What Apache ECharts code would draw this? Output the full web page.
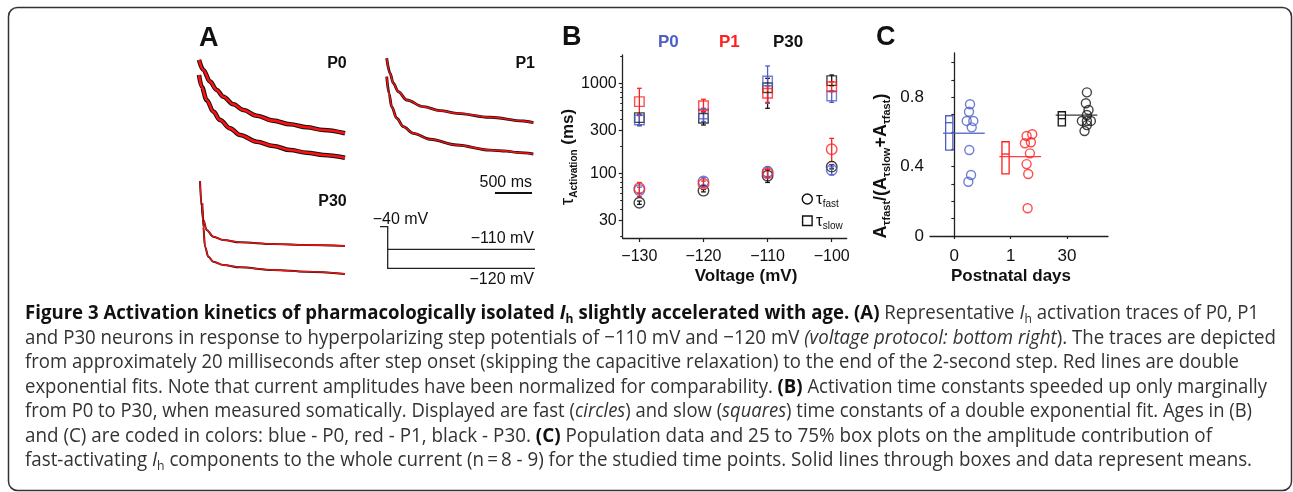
<!DOCTYPE html>
<html><head><meta charset="utf-8">
<script src="https://cdn.jsdelivr.net/npm/echarts@6/dist/echarts.min.js"></script>
<style>html,body{margin:0;padding:0;background:#fff}#c{width:1293px;height:492px}</style>
</head><body><div id="c"></div>
<script>
// ================= DATA =================
// Panel A: traces (time in ms, current in % of panel scale)
const p0UpT = [0,59,151,242,333,470,607,790,1018,1247,1475,1703,2000];
const p0UpI = [-4.5,-13.6,-24.2,-31.8,-37.9,-44.8,-50,-55.2,-59.7,-63,-65.7,-68.2,-71.2];
const p0LoT = [0,37,105,196,288,425,562,790,1018,1247,1475,1703,2000];
const p0LoI = [-18.2,-28.8,-40.9,-51.5,-59.1,-66.7,-72.7,-78.8,-82.7,-86.4,-88.8,-90.9,-93.4];
const p1UpT = [0,45,89,157,270,494,719,944,1393,1843,1978];
const p1UpI = [-3,-16.6,-25.7,-33.4,-40.9,-47,-50.6,-53,-56.6,-60,-61.5];
const p1LoT = [0,31,67,135,224,359,584,944,1393,1618,1753,1977];
const p1LoI = [-19.7,-34.8,-47,-57.5,-65.2,-71.2,-76.6,-81.8,-86.4,-87.3,-88.6,-90];
const p30UpT = [0,23,46,92,184,322,552,1011,1472,2000];
const p30UpI = [-6,-31.7,-45,-55,-61.7,-65,-67.3,-69,-70,-71];
const p30LoT = [32,46,69,115,184,322,552,1011,1472,2000];
const p30LoI = [-28.3,-51.7,-71.7,-81.7,-86.7,-90,-92.3,-95,-96.7,-99];
const scaleBarMs = [1460, 1960];

// Panel B: activation time constants (ms)
const voltages = [-130,-120,-110,-100];
const bTicks = [30,100,300,1000];
const bMinorTicks = [20,40,50,60,70,80,90,200,400,500,600,700,800,900,2000];
const p0Slow = [393,458,1067,726],  p0SlowLo = [337,376,602,617],  p0SlowHi = [447,530,1570,832];
const p0Fast = [65,81,104,109],     p0FastLo = [60,74,92,96],      p0FastHi = [70,89,118,118];
const p1Slow = [628,566,778,922],   p1SlowLo = [440,485,617,811],  p1SlowHi = [885,668,940,1047];
const p1Fast = [68,76,100,185],     p1FastLo = [55,70,90,135],     p1FastHi = [79,82,110,245];
const p30Slow = [417,410,899,1077], p30SlowLo = [345,345,530,946], p30SlowHi = [454,485,1143,1245];
const p30Fast = [47,64,94,118.5],   p30FastLo = [45,62,79,112],    p30FastHi = [49,66,110,125];

// Panel C: A_fast/(A_slow+A_fast)
const cCategories = ['0','1','30'];
const cTicks = [0,0.1,0.2,0.3,0.4,0.5,0.6,0.7,0.8,0.9,1.0];
const cLabelTicks = [0,0.4,0.8];
const cP0 = [0.76,0.717,0.664,0.664,0.627,0.496,0.352,0.313];
const cP0x = [0.279,0.261,0.22,0.337,0.309,0.266,0.297,0.249];
const cP1 = [0.587,0.577,0.541,0.535,0.477,0.415,0.358,0.16];
const cP1x = [0.384,0.284,0.36,0.254,0.343,0.284,0.313,0.302];
const cP30 = [0.829,0.766,0.727,0.698,0.664,0.664,0.664,0.64,0.606];
const cP30x = [0.355,0.337,0.384,0.355,0.266,0.355,0.426,0.355,0.313];
const cBoxQ1 = [0.496,0.358,0.636];
const cBoxQ3 = [0.694,0.544,0.717];
const cBoxMed = [0.654,0.473,0.677];
const cMean = [0.593,0.458,0.698];

// ================= STYLE =================
const FIG = '"Liberation Sans", Arial, sans-serif';
const CAP = '"Open Sans", sans-serif';
const BLUE = '#4d5ec6', RED = '#ff2020', BLACK = '#151515', AX = '#222';

const chart = echarts.init(document.getElementById('c'), null, {renderer:'canvas', width:1293, height:492});
const zip = (a,b) => a.map((v,i)=>[v,b[i]]);
const lg = v => Math.log10(v);

const grids = [
  {left:199, top:55, width:146, height:110},
  {left:386.7, top:55, width:148.3, height:140},
  {left:200, top:175, width:145, height:100},
  {left:622.7, top:55, width:224, height:183},
  {left:930, top:53, width:178, height:183}
];

const hiddenX = g => ({gridIndex:g, type:'value', min:0, max:2000, show:false});
const hiddenY = (g,mn) => ({gridIndex:g, type:'value', min:mn, max:0, show:false});

const xAxes = [hiddenX(0), hiddenX(1), hiddenX(2),
  {gridIndex:3, type:'value', min:-132.6, max:-97.66,
   axisLine:{lineStyle:{color:AX,width:1.3}},
   axisTick:{customValues:voltages, length:4, lineStyle:{color:AX,width:1.2}},
   axisLabel:{customValues:voltages, formatter:v=>'\u2212'+Math.abs(v), color:'#111', fontSize:16, fontFamily:FIG, margin:11},
   splitLine:{show:false}},
  {gridIndex:4, type:'value', min:-0.432, max:2.73,
   axisLine:{lineStyle:{color:AX,width:1.3}},
   axisTick:{customValues:[0,1,2], length:3, lineStyle:{color:AX,width:1.2}},
   axisLabel:{customValues:[0,1,2], formatter:v=>cCategories[Math.round(v)], color:'#111', fontSize:17, fontFamily:FIG, margin:12},
   splitLine:{show:false}}
];
const yAxes = [hiddenY(0,-100), hiddenY(1,-127.27), hiddenY(2,-100),
  {gridIndex:3, type:'value', position:'left', min:lg(19), max:lg(2080),
   axisLine:{lineStyle:{color:AX,width:1.3}},
   axisTick:{customValues:bTicks.map(lg), length:4, lineStyle:{color:AX,width:1.2}},
   axisLabel:{customValues:bTicks.map(lg), formatter:v=>String(Math.round(Math.pow(10,v))), color:'#111', fontSize:16, fontFamily:FIG, margin:6},
   splitLine:{show:false}},
  {gridIndex:3, type:'value', position:'left', offset:0, min:lg(19), max:lg(2080),
   axisLine:{show:false}, axisLabel:{show:false}, splitLine:{show:false},
   axisTick:{customValues:bMinorTicks.map(lg), length:2.5, lineStyle:{color:AX,width:1}}},
  {gridIndex:4, type:'value', position:'left', min:0, max:1.056,
   axisLine:{lineStyle:{color:AX,width:1.3}},
   axisTick:{customValues:cTicks, length:3, lineStyle:{color:AX,width:1.1}},
   axisLabel:{customValues:cLabelTicks, formatter:v=>v===0?'0':v.toFixed(1), color:'#111', fontSize:17, fontFamily:FIG, margin:6},
   splitLine:{show:false}}
];

const series = [];
function trace(g, t, i, blackW, redW){
  series.push({type:'line', xAxisIndex:g, yAxisIndex:g, data:zip(t,i), showSymbol:false, smooth:0.35, smoothMonotone:'x', silent:true,
    lineStyle:{color:'#111', width:blackW}});
  series.push({type:'line', xAxisIndex:g, yAxisIndex:g, data:zip(t,i), showSymbol:false, smooth:0.35, smoothMonotone:'x', silent:true,
    lineStyle:{color:'#ff1010', width:redW}});
}
trace(0,p0UpT,p0UpI,4.6,2.6); trace(0,p0LoT,p0LoI,4.6,2.6);
trace(1,p1UpT,p1UpI,2.8,1.5); trace(1,p1LoT,p1LoI,2.8,1.5);
trace(2,p30UpT,p30UpI,2,1.3); trace(2,p30LoT,p30LoI,2,1.3);
series.push({type:'line', xAxisIndex:1, yAxisIndex:1, data:scaleBarMs.map(t=>[t,-125.5]), showSymbol:false, silent:true, lineStyle:{color:'#111', width:2}});

// Panel B
function errRender(params, api){
  const x = api.value(0);
  const lo = api.coord([x, api.value(1)]), hi = api.coord([x, api.value(2)]);
  const col = api.visual('color'), cw = 2.4;
  const st = {stroke:col, lineWidth:1.3};
  return {type:'group', children:[
    {type:'line', shape:{x1:lo[0],y1:lo[1],x2:hi[0],y2:hi[1]}, style:st},
    {type:'line', shape:{x1:lo[0]-cw,y1:lo[1],x2:lo[0]+cw,y2:lo[1]}, style:st},
    {type:'line', shape:{x1:hi[0]-cw,y1:hi[1],x2:hi[0]+cw,y2:hi[1]}, style:st}
  ]};
}
function bGroup(col, slow, slowLo, slowHi, fast, fastLo, fastHi){
  series.push({type:'custom', xAxisIndex:3, yAxisIndex:3, renderItem:errRender, itemStyle:{color:col}, silent:true,
    data:voltages.map((v,k)=>[v, lg(slowLo[k]), lg(slowHi[k])]).concat(voltages.map((v,k)=>[v, lg(fastLo[k]), lg(fastHi[k])]))});
  series.push({type:'scatter', xAxisIndex:3, yAxisIndex:3, symbol:'rect', symbolSize:9.5, silent:true,
    itemStyle:{color:'rgba(0,0,0,0)', borderColor:col, borderWidth:1.4}, data:voltages.map((v,k)=>[v, lg(slow[k])])});
  series.push({type:'scatter', xAxisIndex:3, yAxisIndex:3, symbol:'circle', symbolSize:10.5, silent:true,
    itemStyle:{color:'rgba(0,0,0,0)', borderColor:col, borderWidth:1.4}, data:voltages.map((v,k)=>[v, lg(fast[k])])});
}
bGroup(BLACK, p30Slow, p30SlowLo, p30SlowHi, p30Fast, p30FastLo, p30FastHi);
bGroup(BLUE, p0Slow, p0SlowLo, p0SlowHi, p0Fast, p0FastLo, p0FastHi);
bGroup(RED, p1Slow, p1SlowLo, p1SlowHi, p1Fast, p1FastLo, p1FastHi);

// Panel C
const BOX_OFF = -0.09, BOX_HW = 3.6;
function boxRender(params, api){
  const p = api.value(0) + BOX_OFF;
  const top = api.coord([p, api.value(2)]), bot = api.coord([p, api.value(1)]), med = api.coord([p, api.value(3)]);
  const col = api.visual('color');
  const st = {stroke:col, lineWidth:1.3, fill:'none'};
  return {type:'group', children:[
    {type:'rect', shape:{x:top[0]-BOX_HW, y:top[1], width:2*BOX_HW, height:bot[1]-top[1]}, style:st},
    {type:'line', shape:{x1:med[0]-BOX_HW, y1:med[1], x2:med[0]+BOX_HW, y2:med[1]}, style:{stroke:col, lineWidth:1.3}}
  ]};
}
const cCols = [BLUE, RED, BLACK];
const cPts = [zip(cP0x, cP0), zip(cP1x, cP1), zip(cP30x, cP30)];
cCols.forEach((col,k)=>{
  series.push({type:'custom', xAxisIndex:4, yAxisIndex:5, renderItem:boxRender, itemStyle:{color:col}, silent:true,
    data:[[k, cBoxQ1[k], cBoxQ3[k], cBoxMed[k]]]});
  series.push({type:'line', xAxisIndex:4, yAxisIndex:5, showSymbol:false, silent:true,
    lineStyle:{color:col, width:1.3, opacity:0.85}, data:[[k-0.2, cMean[k]],[k+0.54, cMean[k]]]});
  series.push({type:'scatter', xAxisIndex:4, yAxisIndex:5, symbol:'circle', symbolSize:9, silent:true,
    itemStyle:{color:'rgba(0,0,0,0)', borderColor:col, borderWidth:1.4},
    data:cPts[k].map(d=>[k + d[0], d[1]])});
});

// ================= GRAPHIC (labels, schematic, caption) =================
const graphic = [];
graphic.push({type:'rect', shape:{x:8.5, y:7.5, width:1283, height:483, r:9}, style:{fill:'none', stroke:'#333', lineWidth:1.5}, silent:true});
function txt(x,y,text,opt){
  graphic.push({type:'text', x, y, silent:true, style:Object.assign({text, fill:'#111', font:'bold 16px '+FIG, align:'left', verticalAlign:'middle'}, opt||{})});
}
txt(199,38.5,'A',{font:'bold 27px '+FIG});
txt(562,37.5,'B',{font:'bold 27px '+FIG});
txt(876,37.5,'C',{font:'bold 27px '+FIG});
txt(346.7,63.3,'P0',{align:'right'});
txt(535,63.3,'P1',{align:'right'});
txt(346.7,201.7,'P30',{align:'right'});
txt(532,183,'500 ms',{align:'right', font:'16px '+FIG});
// voltage protocol schematic
graphic.push({type:'polyline', silent:true, shape:{points:[[380,226.7],[387.7,226.7],[387.7,268.3],[535,268.3]]}, style:{stroke:'#222', lineWidth:1.3, fill:'none'}});
graphic.push({type:'line', silent:true, shape:{x1:387.7,y1:249.3,x2:535,y2:249.3}, style:{stroke:'#222', lineWidth:1.3}});
txt(372.7,220,'\u221240 mV',{font:'16px '+FIG});
txt(534,238.3,'\u2212110 mV',{align:'right', font:'16px '+FIG});
txt(534,279.3,'\u2212120 mV',{align:'right', font:'16px '+FIG});
// panel B group labels
txt(658,42,'P0',{fill:BLUE, font:'bold 17px '+FIG});
txt(719,42,'P1',{fill:RED, font:'bold 17px '+FIG});
txt(773,42,'P30',{fill:'#111', font:'bold 17px '+FIG});
// panel B legend
graphic.push({type:'circle', silent:true, shape:{cx:807.3, cy:199, r:5}, style:{fill:'none', stroke:'#111', lineWidth:1.4}});
graphic.push({type:'rect', silent:true, shape:{x:802.6, y:216, width:9.5, height:9.5}, style:{fill:'none', stroke:'#111', lineWidth:1.4}});
const legRich = {t:{fontFamily:FIG, fontSize:17, fill:'#111', lineHeight:20}, s:{fontFamily:FIG, fontSize:10, fill:'#111', lineHeight:10, verticalAlign:'bottom'}};
graphic.push({type:'text', x:816, y:199, silent:true, style:{text:'{t|\u03c4}{s|fast}', rich:legRich, align:'left', verticalAlign:'middle'}});
graphic.push({type:'text', x:816, y:221, silent:true, style:{text:'{t|\u03c4}{s|slow}', rich:legRich, align:'left', verticalAlign:'middle'}});
// axis titles
txt(746,276.5,'Voltage (mV)',{align:'center', font:'bold 17px '+FIG});
txt(1011,276,'Postnatal days',{align:'center', font:'bold 17px '+FIG});
graphic.push({type:'text', x:568, y:157, rotation:Math.PI/2, silent:true, style:{
  text:'{t|\u03c4}{s|Activation}{m| (ms)}', align:'center', verticalAlign:'middle',
  rich:{t:{fontFamily:FIG, fontSize:19, fill:'#111', lineHeight:22},
        s:{fontFamily:FIG, fontSize:10, fontWeight:'bold', fill:'#111', lineHeight:10, verticalAlign:'bottom'},
        m:{fontFamily:FIG, fontSize:17, fontWeight:'bold', fill:'#111', lineHeight:22}}}});
graphic.push({type:'text', x:881.5, y:166, rotation:Math.PI/2, silent:true, style:{
  text:'{b|A}{s|\u03c4fast}{b|/(A}{s|\u03c4slow}{b|+A}{s|\u03c4fast}{b|)}', align:'center', verticalAlign:'middle',
  rich:{b:{fontFamily:FIG, fontSize:18, fontWeight:'bold', fill:'#111', lineHeight:22},
        s:{fontFamily:FIG, fontSize:11, fontWeight:'bold', fill:'#111', lineHeight:11, verticalAlign:'bottom'}}}});

// caption
const capStyles = {
  n:{fontFamily:CAP, fontSize:20, fill:'#333', lineHeight:24},
  i:{fontFamily:CAP, fontSize:20, fill:'#333', lineHeight:24, fontStyle:'italic'},
  b:{fontFamily:CAP, fontSize:20, fill:'#111', lineHeight:24, fontWeight:'bold'},
  bi:{fontFamily:CAP, fontSize:20, fill:'#111', lineHeight:24, fontWeight:'bold', fontStyle:'italic'},
  s:{fontFamily:CAP, fontSize:13, fill:'#333', lineHeight:13, verticalAlign:'bottom'},
  bs:{fontFamily:CAP, fontSize:13, fill:'#111', lineHeight:13, fontWeight:'bold', verticalAlign:'bottom'}
};
const captionLines = [
 [['b','Figure 3 Activation kinetics of pharmacologically isolated '],['bi','I'],['bs','h'],['b',' slightly accelerated with age. (A)'],['n',' Representative '],['i','I'],['s','h'],['n',' activation traces of P0, P1']],
 [['n','and P30 neurons in response to hyperpolarizing step potentials of \u2212110 mV and \u2212120 mV '],['i','(voltage protocol: bottom right'],['n','). The traces are depicted']],
 [['n','from approximately 20 milliseconds after step onset (skipping the capacitive relaxation) to the end of the 2-second step. Red lines are double']],
 [['n','exponential fits. Note that current amplitudes have been normalized for comparability. '],['b','(B)'],['n',' Activation time constants speeded up only marginally']],
 [['n','from P0 to P30, when measured somatically. Displayed are fast ('],['i','circles'],['n',') and slow ('],['i','squares'],['n',') time constants of a double exponential fit. Ages in (B)']],
 [['n','and (C) are coded in colors: blue - P0, red - P1, black - P30. '],['b','(C)'],['n',' Population data and 25 to 75% box plots on the amplitude contribution of']],
 [['n','fast-activating '],['i','I'],['s','h'],['n',' components to the whole current (n\u2009=\u20098 - 9) for the studied time points. Solid lines through boxes and data represent means.']]
];
const capRight = [1259,1276,1239,1267,1252,1212,1252];
const CAP_LEFT = 25;
const mctx = document.createElement('canvas').getContext('2d');
function tokFont(k){ const s = capStyles[k]; return (s.fontStyle?'italic ':'') + (s.fontWeight?'bold ':'') + s.fontSize + 'px ' + s.fontFamily; }
captionLines.forEach((line, li) => {
  let w = 0;
  line.forEach(([k,t]) => { mctx.font = tokFont(k); w += mctx.measureText(t).width; });
  const sx = (capRight[li] - CAP_LEFT) / w;
  graphic.push({type:'text', x:CAP_LEFT, y:313.4 + 24.55*li, scaleX:sx, scaleY:1, silent:true,
    style:{text: line.map(([k,t])=>'{'+k+'|'+t+'}').join(''), rich:capStyles, align:'left', verticalAlign:'middle'}});
});

chart.setOption({animation:false, backgroundColor:'#fff', grid:grids, xAxis:xAxes, yAxis:yAxes, series, graphic});
</script></body></html>
